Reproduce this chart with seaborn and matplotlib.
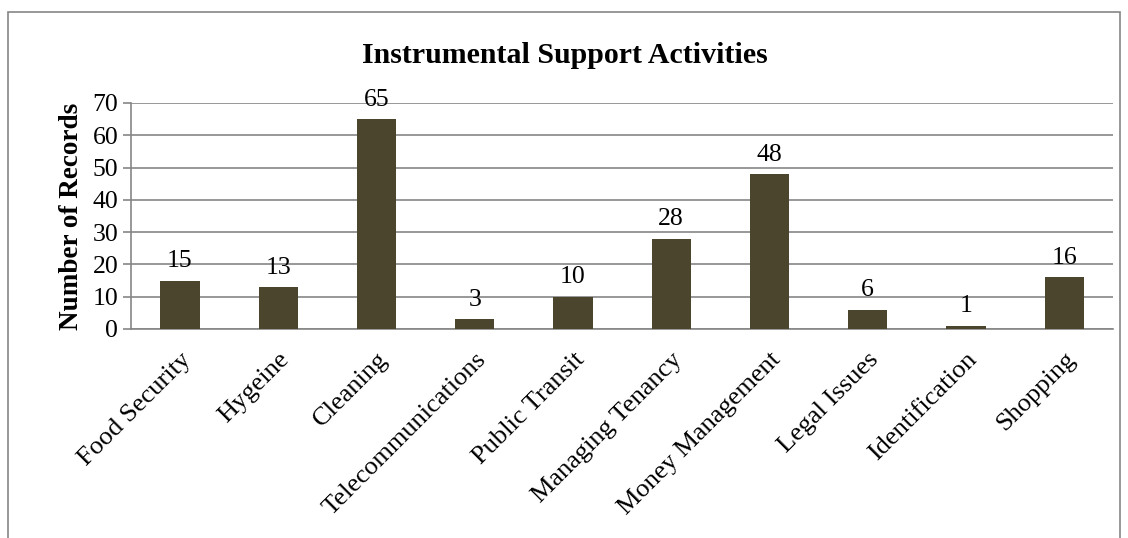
import matplotlib
matplotlib.use("Agg")
import matplotlib.pyplot as plt
import seaborn as sns
import pandas as pd
from matplotlib.patches import Rectangle

categories = ["Food Security", "Hygeine", "Cleaning", "Telecommunications", "Public Transit",
              "Managing Tenancy", "Money Management", "Legal Issues", "Identification", "Shopping"]
values = [15, 13, 65, 3, 10, 28, 48, 6, 1, 16]
yticks = [0, 10, 20, 30, 40, 50, 60, 70]

sns.set_theme(style="white")
plt.rcParams['font.family'] = ['Liberation Serif', 'DejaVu Serif']

df = pd.DataFrame({"cat": categories, "val": values})

fig = plt.figure(figsize=(11.28, 5.38), dpi=100)
ax = fig.add_axes([0.116, 0.3885, 0.871, 0.4201])

sns.barplot(data=df, x="cat", y="val", color="#4B452D", width=0.4, ax=ax,
            saturation=1, edgecolor="none", zorder=3)

ax.set_ylim(0, 70)
ax.set_yticks(yticks)
ax.set_xlim(-0.5, len(categories) - 0.5)
ax.yaxis.grid(True, color="#868686", linewidth=1.2, zorder=0)
ax.set_axisbelow(True)
for s in ["top", "right"]:
    ax.spines[s].set_visible(False)
for s in ["left", "bottom"]:
    ax.spines[s].set_color("#868686")
    ax.spines[s].set_linewidth(1.2)

ax.tick_params(axis="y", which="major", left=True, length=6, width=1.2, color="#868686",
               labelsize=18.5, pad=3, labelcolor="black")
ax.tick_params(axis="x", bottom=False, labelsize=19, labelcolor="black", pad=8)
ax.set_xticks(range(len(categories)))
ax.set_xticklabels(categories, rotation=45, ha="right", rotation_mode="anchor")

for c in ax.containers:
    ax.bar_label(c, labels=[str(v) for v in values], fontsize=18.5, padding=6, color="black")

ax.set_xlabel("")
ax.set_ylabel("Number of Records", fontsize=19.5, fontweight="bold", labelpad=6, color="black")
fig.text(0.501, 0.897, "Instrumental Support Activities", ha="center", va="center",
         fontsize=21.5, fontweight="bold", color="black")

fig.patches.append(Rectangle((8/1128, -0.05), (1120-8)/1128, 1.05 - 12/538,
                             transform=fig.transFigure, fill=False,
                             edgecolor="#868686", linewidth=1.2, clip_on=False))

fig.savefig("out.png", dpi=100, facecolor="white")
